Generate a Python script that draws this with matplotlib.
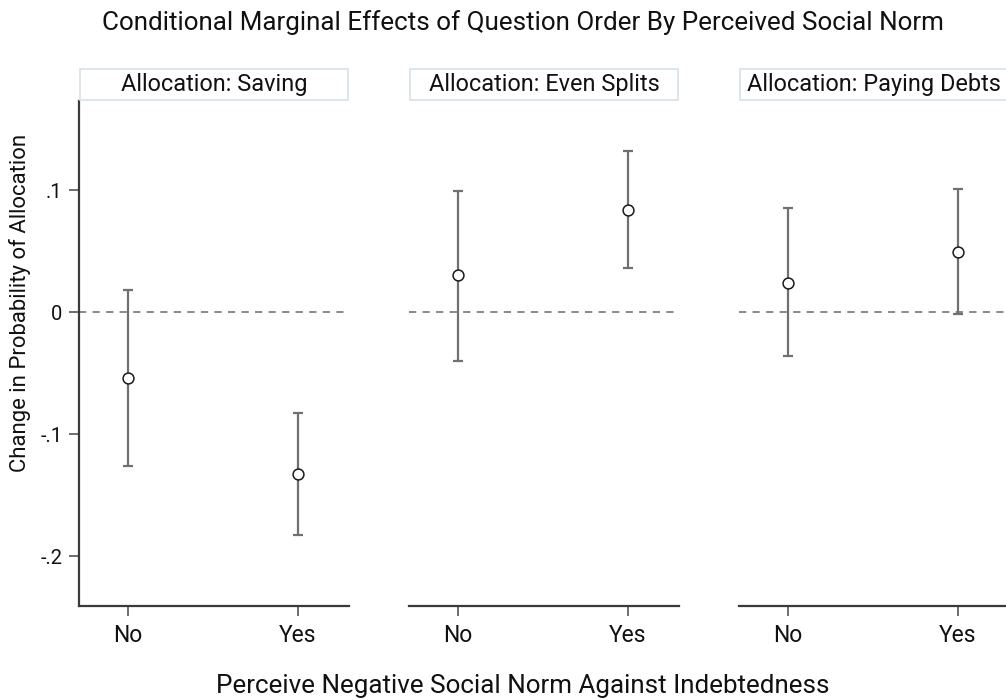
import matplotlib
matplotlib.use("Agg")
import matplotlib.pyplot as plt
from matplotlib.patches import Rectangle

plt.rcParams['font.family'] = ['Roboto', 'DejaVu Sans']

panels = ["Allocation: Saving", "Allocation: Even Splits", "Allocation: Paying Debts"]
categories = ["No", "Yes"]
estimates = [[-0.054, -0.133], [0.030, 0.084], [0.024, 0.049]]
ci_low = [[-0.126, -0.183], [-0.040, 0.036], [-0.036, -0.002]]
ci_high = [[0.018, -0.083], [0.099, 0.132], [0.085, 0.101]]
yticks = [-0.2, -0.1, 0.0, 0.1]
yticklabels = ["-.2", "-.1", "0", ".1"]

W, H = 1006, 700
fig = plt.figure(figsize=(W / 100, H / 100), dpi=100)

lefts = [79, 409, 739]
pw = 270
top, bottom = 101, 606
ylim = (-(606 - 312) / 1220, (312 - 101) / 1220)

spine_col = "#3a3a3a"
bar_col = "#707070"

for i, name in enumerate(panels):
    ax = fig.add_axes([lefts[i] / W, 1 - bottom / H, pw / W, (bottom - top) / H])
    ax.set_xlim(-0.29, 1.30)
    ax.set_ylim(*ylim)
    xs = list(range(len(categories)))
    ax.axhline(0, color="#808080", lw=1.3, ls=(0, (4, 3.5)), zorder=1)
    yerr = [[e - l for e, l in zip(estimates[i], ci_low[i])],
            [h - e for e, h in zip(estimates[i], ci_high[i])]]
    ax.errorbar(xs, estimates[i], yerr=yerr, fmt="none", ecolor=bar_col,
                elinewidth=1.6, capsize=3.3, capthick=1.6, zorder=2)
    ax.plot(xs, estimates[i], "o", ms=7.8, mfc="white", mec="#1a1a1a", mew=1.1, zorder=3)
    for s in ["top", "right"]:
        ax.spines[s].set_visible(False)
    ax.spines["bottom"].set_color(spine_col)
    ax.spines["bottom"].set_linewidth(1.6)
    ax.set_xticks(xs)
    ax.set_xticklabels(categories, fontsize=16.5)
    ax.tick_params(axis="x", length=7, width=1.2, color="#555555", pad=6, labelcolor="#111111")
    if i == 0:
        ax.spines["left"].set_color(spine_col)
        ax.spines["left"].set_linewidth(1.6)
        ax.set_yticks(yticks)
        ax.set_yticklabels(yticklabels, fontsize=14.5)
        ax.tick_params(axis="y", length=7, width=1.2, color="#555555", pad=5, labelcolor="#111111")
    else:
        ax.spines["left"].set_visible(False)
        ax.set_yticks([])
    # strip header
    bx0 = lefts[i] + 1
    bw = pw - 2
    rect = Rectangle((bx0 / W, 1 - 100 / H), bw / W, 31 / H, transform=fig.transFigure,
                     facecolor="white", edgecolor="#d5e3e8", lw=1.2, clip_on=False)
    fig.patches.append(rect)
    fig.text((bx0 + bw / 2) / W, 1 - 84.5 / H, name, ha="center", va="center",
             fontsize=16.9, color="#111111")

fig.text(20 / W, 1 - 303 / H, "Change in Probability of Allocation", rotation=90,
         ha="center", va="center", fontsize=15.9, color="#111111")
fig.text(523 / W, 1 - 23 / H, "Conditional Marginal Effects of Question Order By Perceived Social Norm",
         ha="center", va="center", fontsize=18.7, color="#111111")
fig.text(523 / W, 1 - 686 / H, "Perceive Negative Social Norm Against Indebtedness",
         ha="center", va="center", fontsize=18.7, color="#111111")

fig.savefig("out.png", dpi=100, facecolor="white")
